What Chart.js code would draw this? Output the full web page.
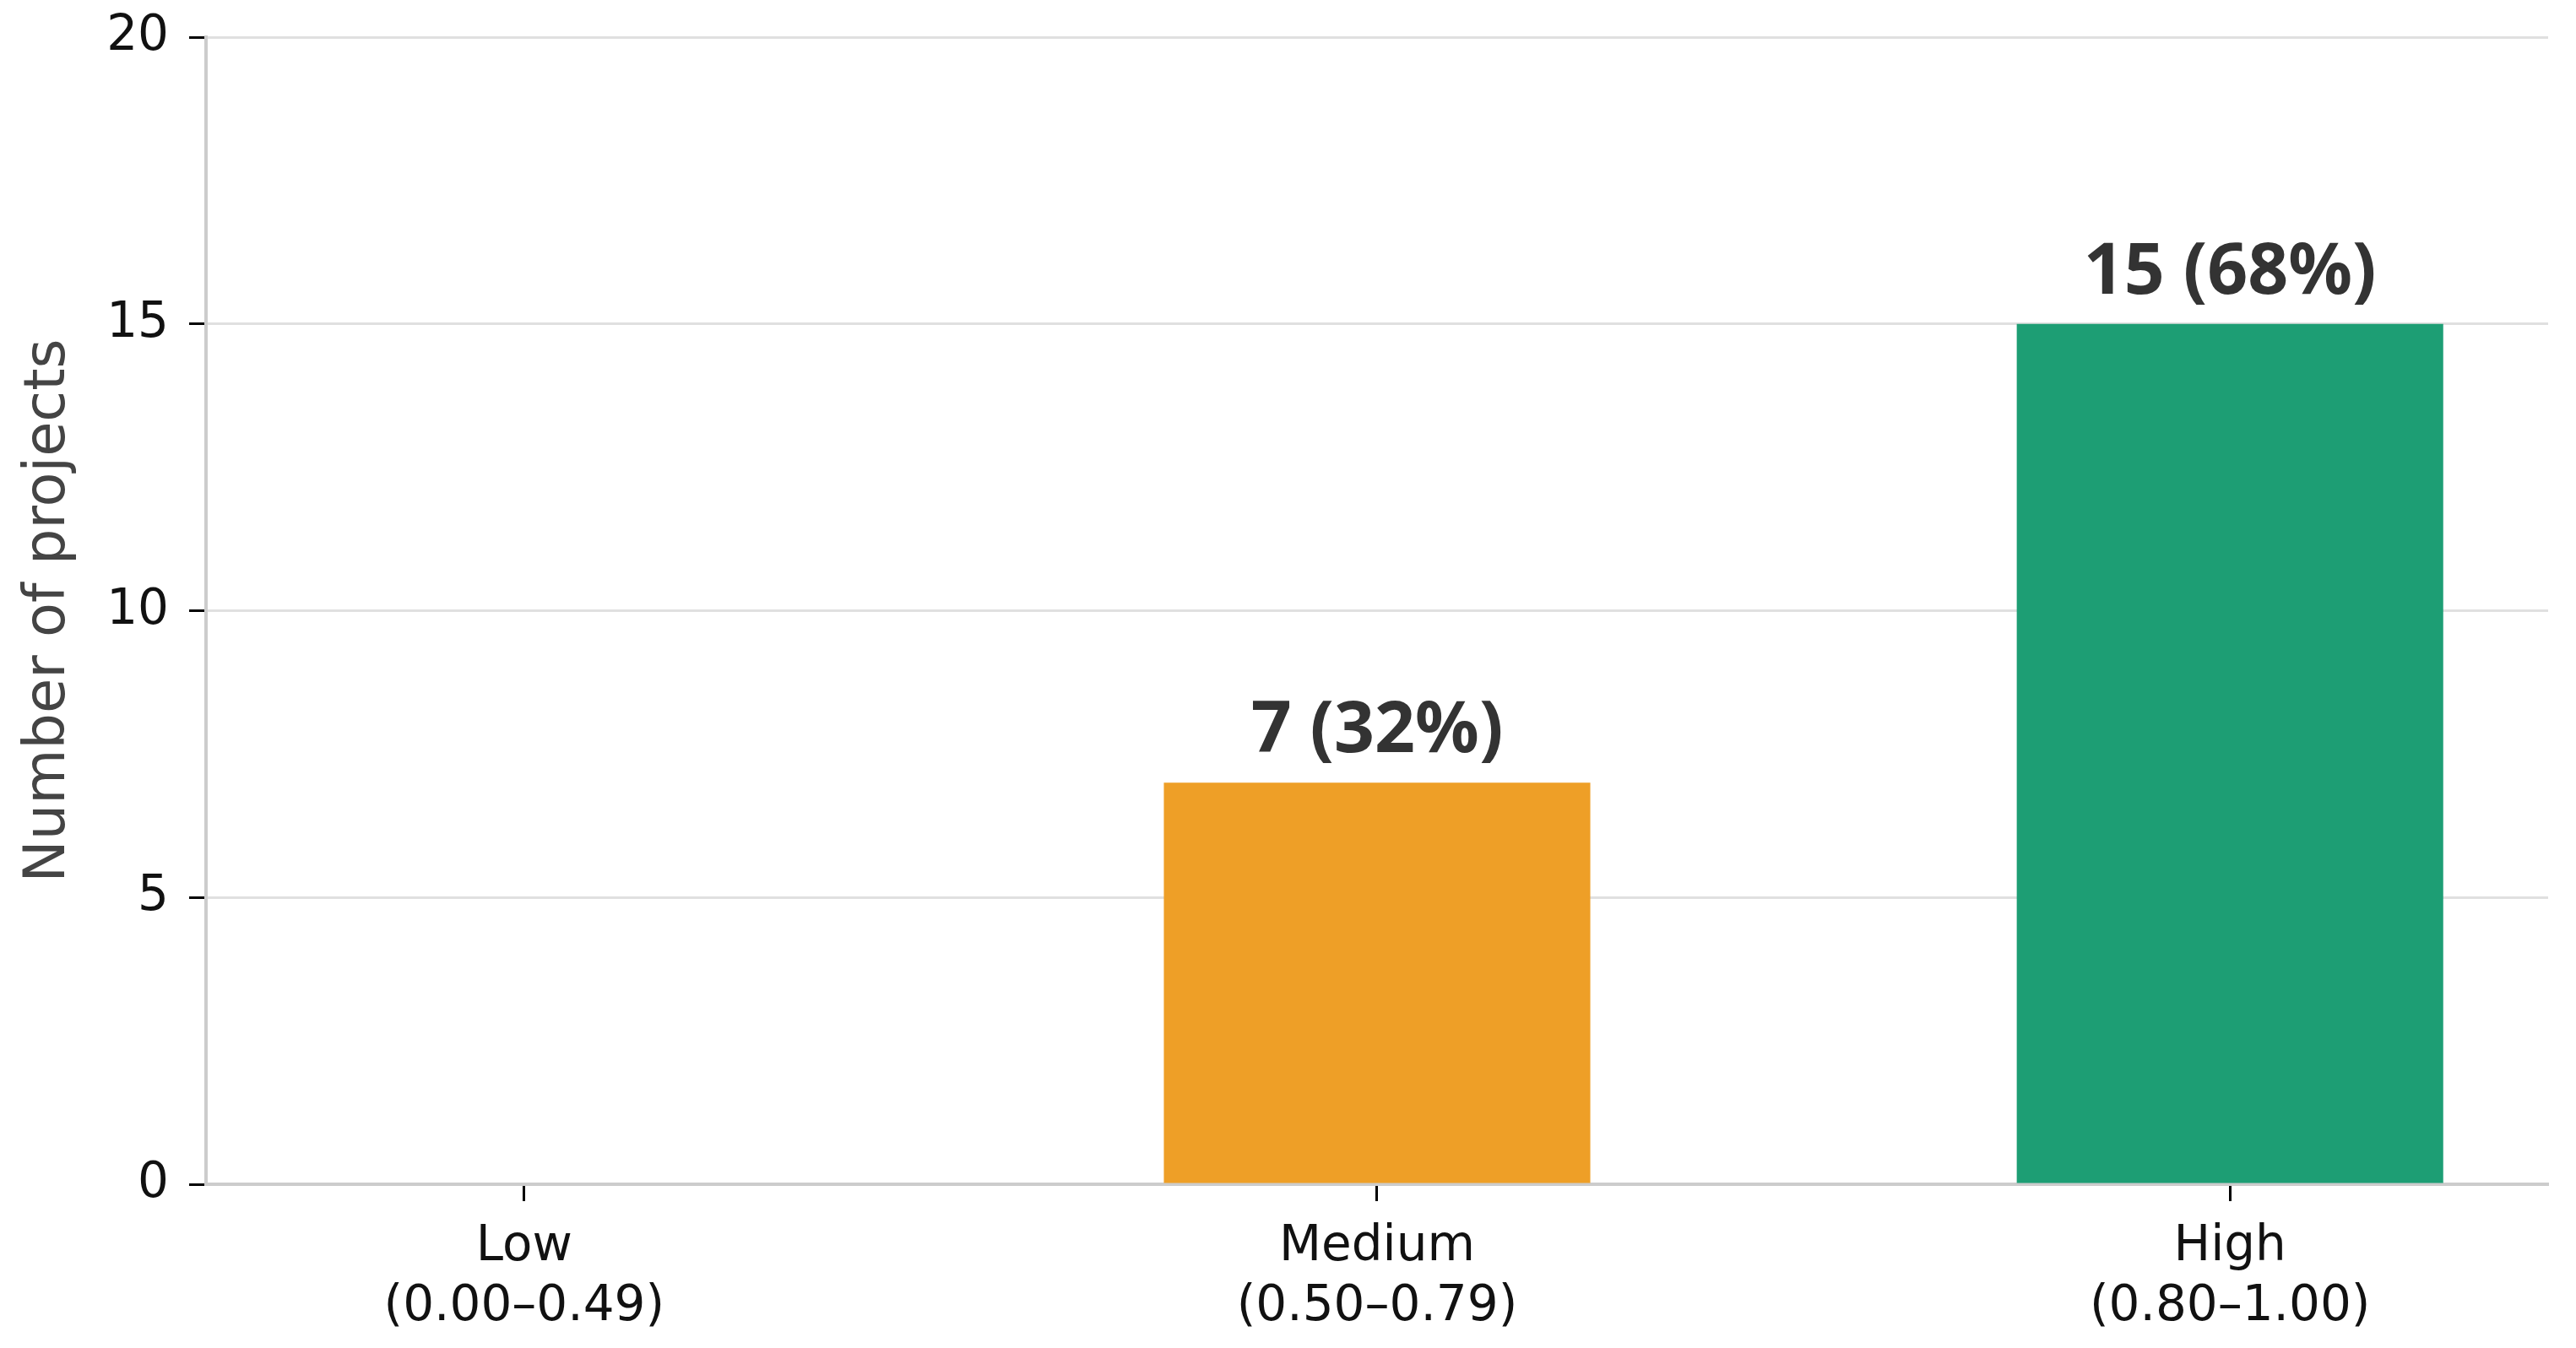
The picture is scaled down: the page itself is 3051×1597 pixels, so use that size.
<!DOCTYPE html>
<html lang="en">
<head>
    <meta charset="UTF-8">
    <title>Projects by score band</title>
    <script src="https://cdn.jsdelivr.net/npm/chart.js"></script>
    <style>
        body { margin: 0; background: #fff; }
        #wrap { width: 3051px; height: 1597px; }
    </style>
</head>
<body>
    <div id="wrap"><canvas id="barChart"></canvas></div>
    <script>
        const bandNames = ['Low', 'Medium', 'High'];
        const bandRanges = ['(0.00–0.49)', '(0.50–0.79)', '(0.80–1.00)'];
        const projectCounts = [0, 7, 15];
        const barColors = ['#d95f5f', '#EE9F27', '#1D9E74'];
        const yTicks = [0, 5, 10, 15, 20];

        const total = projectCounts.reduce((a, b) => a + b, 0);

        // labels above the bars: count (percent)
        const barLabels = {
            id: 'barLabels',
            afterDatasetsDraw(chart) {
                const ctx = chart.ctx;
                const meta = chart.getDatasetMeta(0);
                ctx.save();
                ctx.font = 'bold 84px "Noto Sans", "DejaVu Sans", sans-serif';
                ctx.fillStyle = '#333333';
                ctx.textAlign = 'center';
                ctx.textBaseline = 'alphabetic';
                meta.data.forEach((bar, i) => {
                    const v = projectCounts[i];
                    if (!v) return;
                    const pct = Math.round(v / total * 100);
                    ctx.fillText(v + ' (' + pct + '%)', bar.x, bar.y - 36);
                });
                ctx.restore();
            }
        };

        const ctx = document.getElementById('barChart').getContext('2d');
        new Chart(ctx, {
            type: 'bar',
            data: {
                datasets: [{
                    data: projectCounts.map((v, i) => ({ x: i, y: v })),
                    backgroundColor: barColors,
                    borderWidth: 0,
                    categoryPercentage: 1,
                    barPercentage: 0.5,
                }],
            },
            options: {
                responsive: true,
                maintainAspectRatio: false,
                animation: false,
                layout: { padding: { top: 44, right: 33, left: 0, bottom: 0 } },
                plugins: {
                    legend: { display: false },
                    tooltip: { enabled: false },
                },
                scales: {
                    x: {
                        type: 'linear',
                        min: -0.373,
                        max: 2.373,
                        offset: false,
                        afterBuildTicks: (scale) => {
                            scale.ticks = bandNames.map((_, i) => ({ value: i }));
                        },
                        afterFit: (scale) => {
                            scale.height = 194;
                            scale.paddingLeft = 0;
                            scale.paddingRight = 0;
                        },
                        grid: {
                            offset: false,
                            drawOnChartArea: false,
                            drawTicks: true,
                            tickLength: 20,
                            tickColor: '#000000',
                            tickWidth: 3,
                        },
                        border: { color: '#cccccc', width: 4 },
                        ticks: {
                            padding: 20,
                            color: '#111111',
                            font: { family: '"DejaVu Sans"', size: 58, lineHeight: 1.22 },
                            maxRotation: 0,
                            autoSkip: false,
                            callback: (value) => [bandNames[value], bandRanges[value]],
                        },
                    },
                    y: {
                        min: 0,
                        max: 20,
                        afterBuildTicks: (scale) => {
                            scale.ticks = yTicks.map(v => ({ value: v }));
                        },
                        afterFit: (scale) => {
                            scale.width = 244;
                            scale.paddingTop = 0;
                            scale.paddingBottom = 0;
                        },
                        grid: {
                            color: '#e0e0e0',
                            lineWidth: 3,
                            drawTicks: true,
                            tickLength: 20,
                            tickColor: '#000000',
                            tickWidth: 3,
                        },
                        border: { color: '#cccccc', width: 4 },
                        ticks: {
                            padding: 24,
                            color: '#111111',
                            font: { family: '"DejaVu Sans"', size: 58 },
                        },
                        title: {
                            display: true,
                            text: 'Number of projects',
                            color: '#444444',
                            font: { family: '"DejaVu Sans"', size: 67 },
                            padding: { top: 18, bottom: 0 },
                        },
                    },
                },
            },
            plugins: [barLabels],
        });
    </script>
</body>
</html>
